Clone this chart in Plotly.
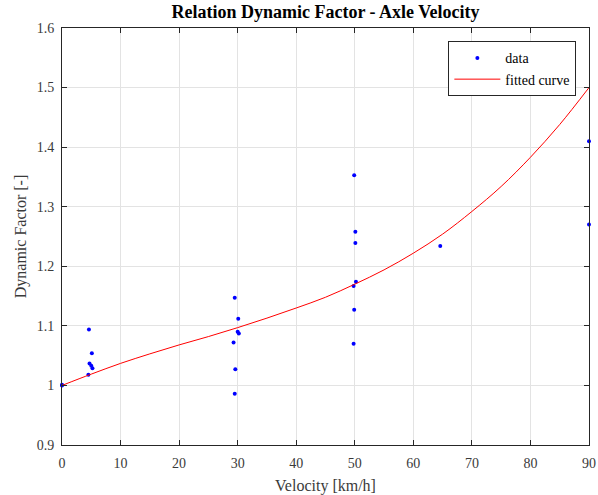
"""Dynamic factor vs axle velocity: measured points and fitted curve."""

import plotly.graph_objects as go

FONT = "'Liberation Serif','Times New Roman',serif"
AXIS = "#262626"
GRID = "#e3e3e3"

# measured points
velocity = [0, 0, 4.6, 5.1, 4.7, 5.0, 5.2, 4.5,
            29.5, 30.1, 30.0, 30.2, 29.3, 29.6, 29.5,
            49.9, 50.1, 50.1, 50.2, 49.8, 49.9, 49.8,
            64.6, 90.0, 90.0]
dyn_factor = [1.000, 1.001, 1.094, 1.054, 1.037, 1.033, 1.029, 1.018,
              1.147, 1.112, 1.090, 1.087, 1.072, 1.027, 0.986,
              1.353, 1.258, 1.239, 1.174, 1.167, 1.127, 1.070,
              1.234, 1.410, 1.270]

# fitted curve, read every 5 km/h
fit_v = [0, 5, 10, 15, 20, 25, 30, 35, 40, 45,
         50, 55, 60, 65, 70, 75, 80, 85, 90]
fit_f = [1.000, 1.019, 1.037, 1.053, 1.068, 1.082, 1.097, 1.113, 1.130, 1.148,
         1.170, 1.194, 1.222, 1.254, 1.292, 1.334, 1.383, 1.438, 1.500]

x_ticks = list(range(0, 91, 10))
y_ticks = [0.9, 1.0, 1.1, 1.2, 1.3, 1.4, 1.5, 1.6]
y_labels = ["0.9", "1", "1.1", "1.2", "1.3", "1.4", "1.5", "1.6"]

fig = go.Figure()
fig.add_trace(go.Scatter(
    x=velocity, y=dyn_factor, mode="markers", name="data",
    marker=dict(color="#0000ff", size=4),
    cliponaxis=False,
))
fig.add_trace(go.Scatter(
    x=fit_v, y=fit_f, mode="lines", name="fitted curve",
    line=dict(color="#ff0000", width=1, shape="spline"),
))

axis_common = dict(
    showline=True, linecolor=AXIS, linewidth=1, mirror="ticks",
    ticks="inside", ticklen=5, tickcolor=AXIS,
    showgrid=True, gridcolor=GRID, zeroline=False, automargin=False,
    tickfont=dict(size=14, color="#3a3a3a", family=FONT),
)

fig.update_layout(
    width=598, height=495,
    paper_bgcolor="white", plot_bgcolor="white",
    font=dict(family=FONT, color=AXIS),
    margin=dict(l=62, r=9, t=28, b=50),
    title=dict(
        text="<b>Relation Dynamic Factor - Axle Velocity</b>",
        font=dict(size=18, color="black", family=FONT),
        x=0.5, xref="paper", xanchor="center",
        y=0.977, yanchor="middle",
    ),
    xaxis=dict(
        range=[0, 90], tickvals=x_ticks, ticklabelstandoff=5,
        title=dict(text="Velocity [km/h]", font=dict(size=16, color="#3a3a3a"), standoff=10),
        **axis_common,
    ),
    yaxis=dict(
        range=[0.9, 1.6], tickvals=y_ticks, ticktext=y_labels, ticklabelstandoff=4,
        title=dict(text="Dynamic Factor [-]", font=dict(size=16, color="#3a3a3a"), standoff=6),
        **axis_common,
    ),
    legend=dict(
        x=0.976, y=0.968, xanchor="right", yanchor="top",
        bgcolor="white", bordercolor=AXIS, borderwidth=1,
        font=dict(size=14, color="black", family=FONT),
        tracegroupgap=0, itemwidth=46,
    ),
    showlegend=True,
)

fig.write_html(
    "out.html",
    config={"displayModeBar": False},
    post_script="document.body.style.margin='0';",
)
